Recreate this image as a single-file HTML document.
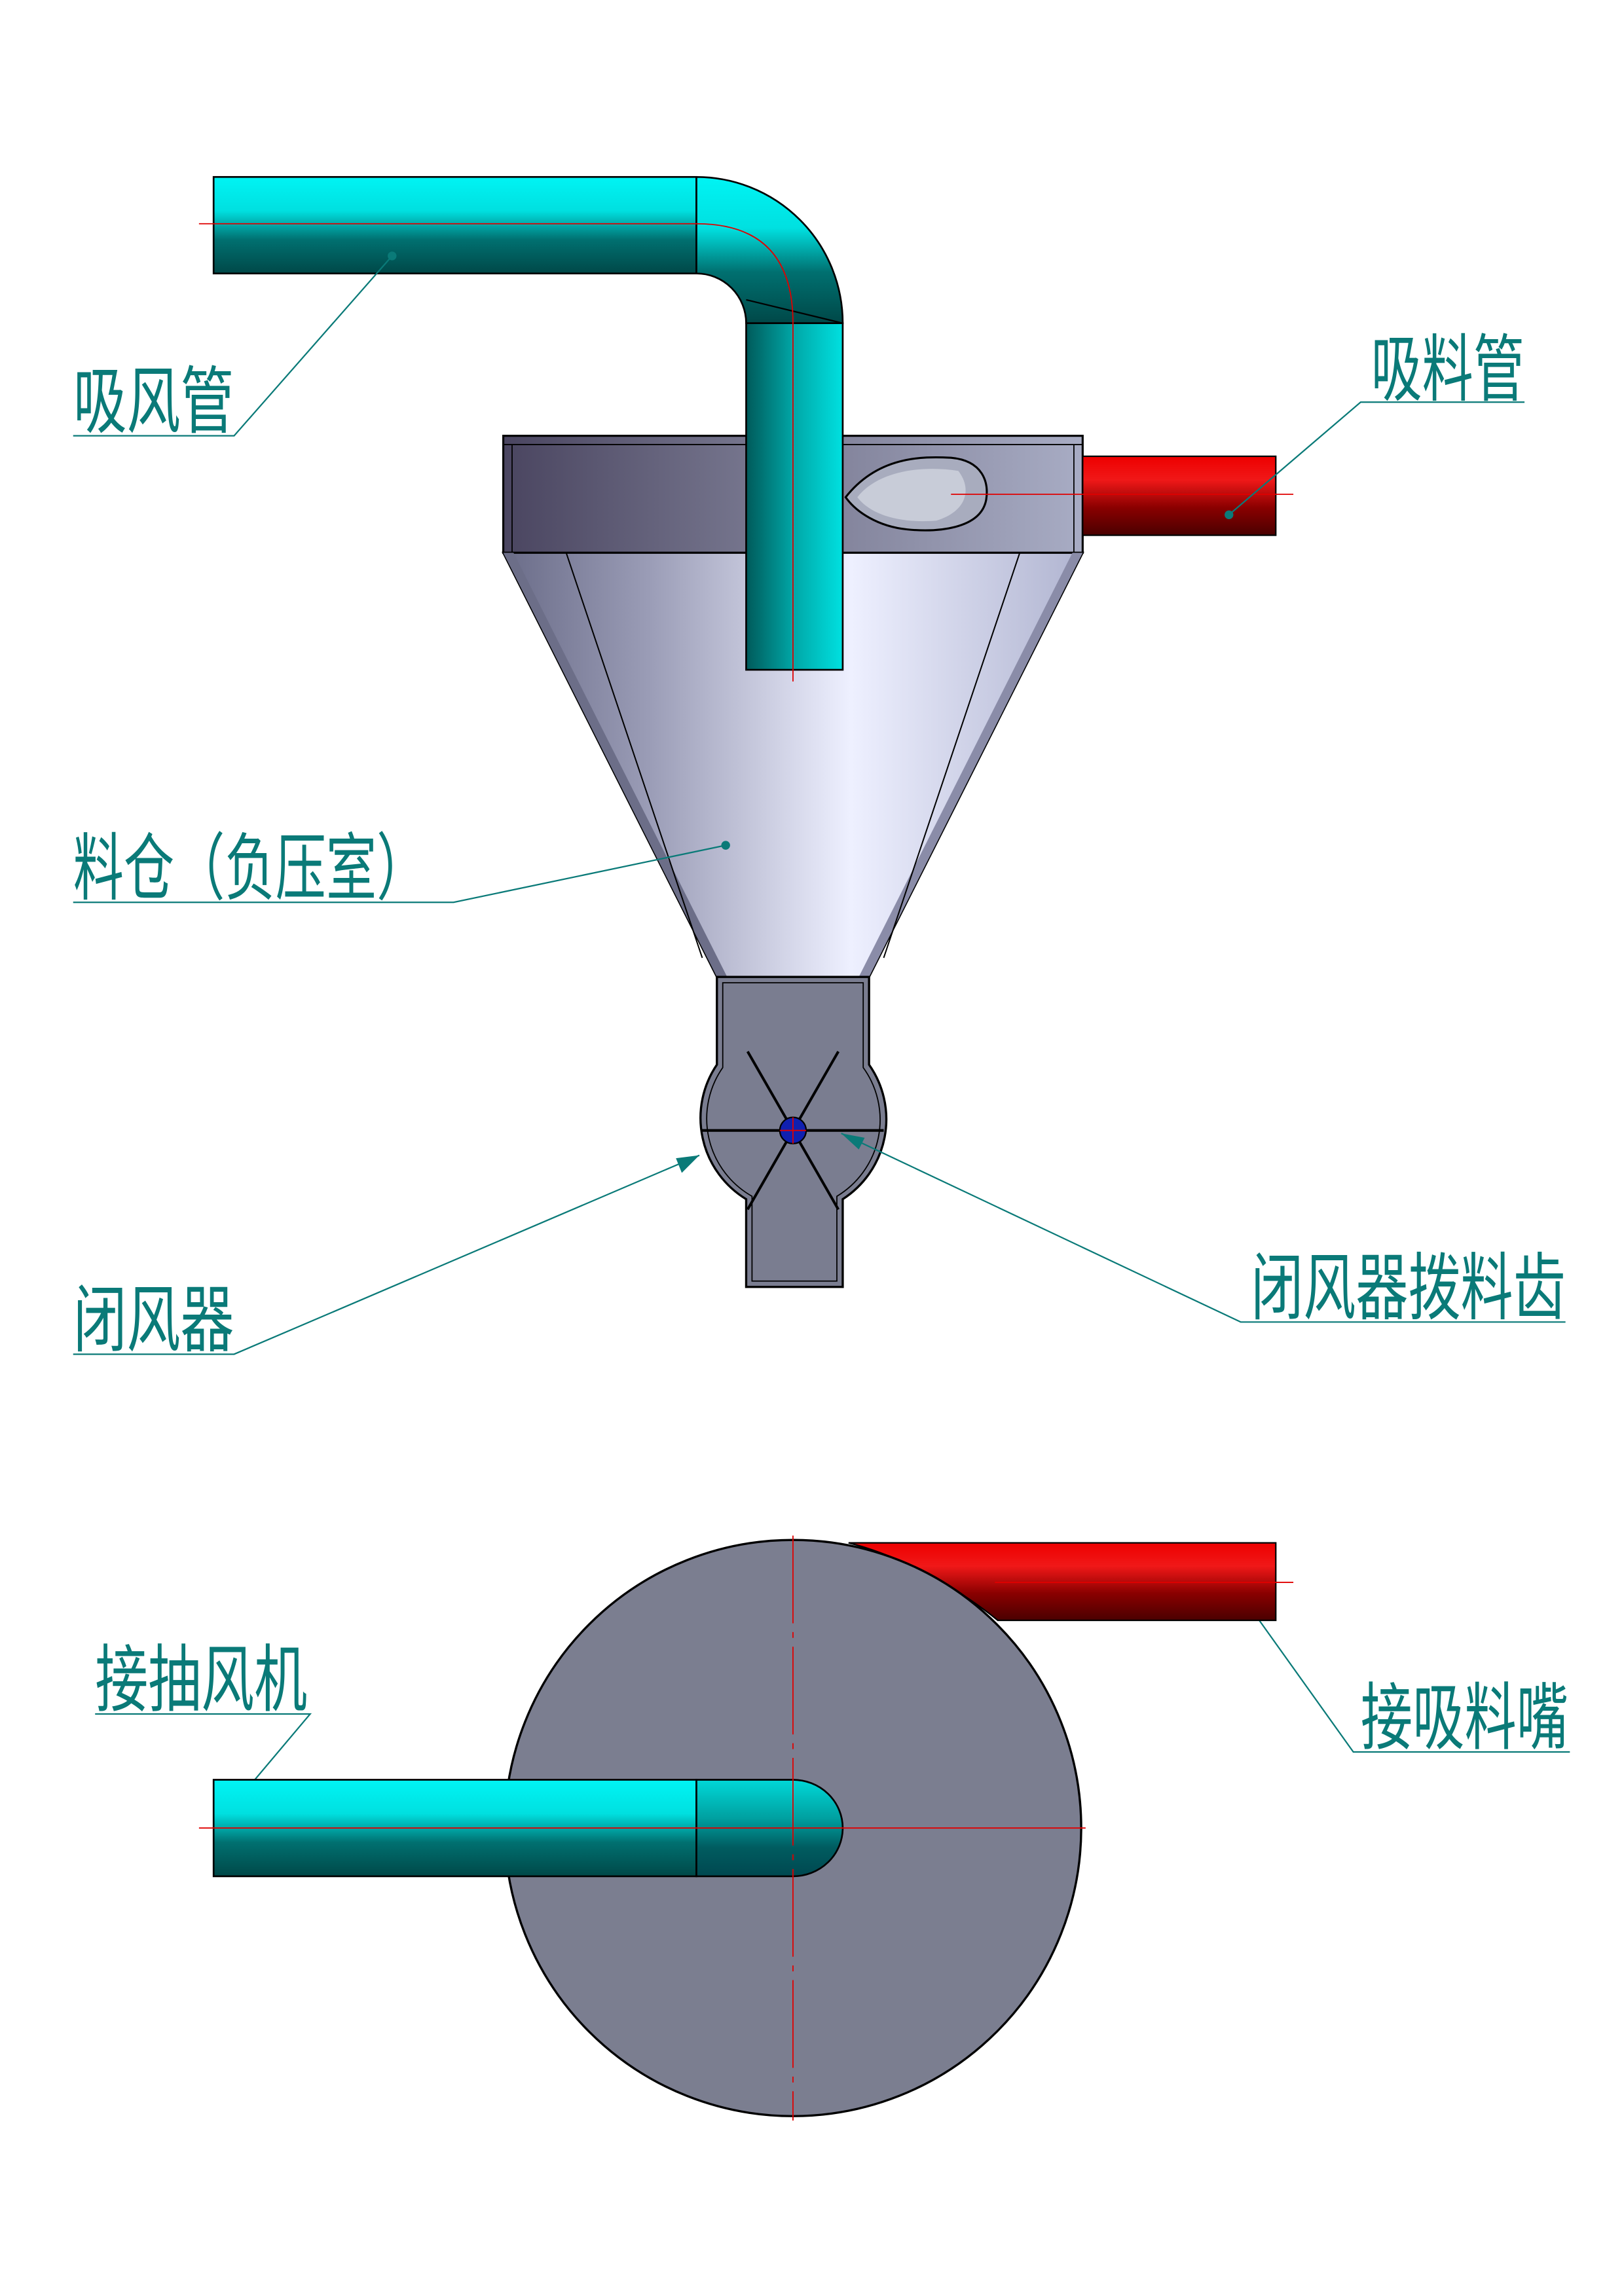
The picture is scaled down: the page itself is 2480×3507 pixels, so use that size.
<!DOCTYPE html>
<html><head><meta charset="utf-8"><style>
html,body{margin:0;padding:0;background:#fff}
svg{display:block}
text{font-family:"Liberation Sans","Noto Sans CJK SC","WenQuanYi Zen Hei",sans-serif;fill:#0a7a78}
</style></head><body>
<svg width="2480" height="3507" viewBox="0 0 1110 1570" preserveAspectRatio="none" xmlns="http://www.w3.org/2000/svg">
<defs>
<linearGradient id="cyh" x1="0" y1="0" x2="0" y2="1">
<stop offset="0" stop-color="#00f4f4"/><stop offset="0.35" stop-color="#00e0e0"/><stop offset="0.65" stop-color="#007070"/><stop offset="1" stop-color="#004848"/></linearGradient>
<linearGradient id="cyv" x1="0" y1="0" x2="1" y2="0">
<stop offset="0" stop-color="#005a5a"/><stop offset="0.5" stop-color="#00a8a8"/><stop offset="1" stop-color="#00e0e0"/></linearGradient>
<linearGradient id="red" x1="0" y1="0" x2="0" y2="1">
<stop offset="0" stop-color="#ee0000"/><stop offset="0.3" stop-color="#f01818"/><stop offset="0.65" stop-color="#8a0000"/><stop offset="1" stop-color="#4a0000"/></linearGradient>
<linearGradient id="top" x1="0" y1="0" x2="1" y2="0">
<stop offset="0" stop-color="#4a4560"/><stop offset="0.45" stop-color="#787890"/><stop offset="1" stop-color="#a8acc4"/></linearGradient>
<linearGradient id="cone" x1="0" y1="0" x2="1" y2="0">
<stop offset="0" stop-color="#6a6c88"/><stop offset="0.25" stop-color="#9a9cb6"/><stop offset="0.6" stop-color="#eef0ff"/><stop offset="1" stop-color="#b0b4d0"/></linearGradient>
<linearGradient id="cap" x1="0" y1="0" x2="0" y2="1">
<stop offset="0" stop-color="#00d8d8"/><stop offset="0.4" stop-color="#00a0a0"/><stop offset="0.7" stop-color="#005c60"/><stop offset="1" stop-color="#004850"/></linearGradient>
</defs>

<!-- top horizontal pipe -->
<rect x="146" y="121" width="330" height="66" fill="url(#cyh)" stroke="#000" stroke-width="1.2"/>
<path d="M476 121 A100 100 0 0 1 576 221 L510 221 A34 34 0 0 0 476 187 Z" fill="url(#cyh)" stroke="#000" stroke-width="1.2"/>
<path d="M510 205 L576 221" stroke="#000" stroke-width="1"/>

<!-- hopper top cylinder -->
<rect x="344" y="298" width="396" height="80" fill="url(#top)" stroke="#000" stroke-width="1.4"/>
<line x1="344" y1="304" x2="740" y2="304" stroke="#000" stroke-width="0.8"/>
<line x1="350" y1="304" x2="350" y2="378" stroke="#000" stroke-width="0.8"/>
<line x1="734" y1="304" x2="734" y2="378" stroke="#000" stroke-width="0.8"/>
<path d="M578 340 C600 312 630 312 650 313 C672 315 676 330 674 342 C670 362 640 364 620 362 C600 360 585 350 578 340 Z" fill="#a8acbe" stroke="#000" stroke-width="1.4"/>
<path d="M586 340 C600 322 630 318 655 322 C665 335 660 350 640 356 C615 358 595 352 586 340 Z" fill="#c8ccd8"/>
<!-- cone -->
<path d="M344 378 L740 378 L594 668 L490 668 Z" fill="url(#cone)" stroke="#000" stroke-width="1.4"/>
<path d="M344 378 L490 668 L497 668 L351 378 Z" fill="#6c6e88"/>
<path d="M740 378 L594 668 L587 668 L733 378 Z" fill="#8a8ca8"/>
<path d="M387 378 L480 655 M697 378 L604 655" stroke="#000" stroke-width="0.9"/>

<!-- vertical pipe -->
<rect x="510" y="221" width="66" height="237" fill="url(#cyv)" stroke="#000" stroke-width="1.2"/>

<!-- red pipe top -->
<rect x="740" y="312" width="132" height="54" fill="url(#red)" stroke="#000" stroke-width="1"/>

<!-- rotary valve -->
<path d="M490 668 L594 668 L594 728 A65 65 0 0 1 576 820 L576 880 L510 880 L510 820 A65 65 0 0 1 490 728 Z" fill="#7a7d90" stroke="#000" stroke-width="1.5"/>
<path d="M494 672 L590 672 L590 730 A61 61 0 0 1 572 818 L572 876 L514 876 L514 818 A61 61 0 0 1 494 730 Z" fill="none" stroke="#000" stroke-width="0.8"/>
<g stroke="#000" stroke-width="1.8">
<line x1="480" y1="773" x2="604" y2="773"/>
<line x1="511" y1="719" x2="573" y2="827"/>
<line x1="573" y1="719" x2="511" y2="827"/>
</g>
<circle cx="542" cy="773" r="9" fill="#1020b0" stroke="#000"/>

<g stroke="#e00000" stroke-width="0.8" fill="none">
<path d="M136 153 L476 153 Q542 153 542 221 L542 466"/>
<line x1="650" y1="338" x2="884" y2="338"/>
<line x1="533" y1="773" x2="551" y2="773"/><line x1="542" y1="764" x2="542" y2="782"/>
</g>

<g stroke="#0a7a78" stroke-width="1" fill="none">
<polyline points="50,298 160,298 268,175"/>
<polyline points="1042,275 930,275 840,352"/>
<polyline points="50,617 310,617 496,578"/>
<polyline points="50,926 160,926 478,790"/>
<polyline points="1070,904 848,904 575,775"/>
<polyline points="65,1172 212,1172 148,1248"/>
<polyline points="1073,1198 925,1198 855,1100"/>
</g>
<g fill="#0a7a78">
<circle cx="268" cy="175" r="3"/><circle cx="840" cy="352" r="3"/><circle cx="496" cy="578" r="3"/><circle cx="855" cy="1100" r="3"/>
<path d="M478 790 L462 792 L466 802 Z"/>
<path d="M575 775 L587 786 L591 778 Z"/>
<path d="M148 1248 L150 1230 L158 1234 Z"/>
</g>

<!-- bottom view -->
<path d="M580 1055 L872 1055 L872 1108 L682 1108 C660 1090 620 1065 580 1055 Z" fill="url(#red)" stroke="#000" stroke-width="1"/>
<circle cx="542" cy="1250" r="197" fill="#7b7e90" stroke="#000" stroke-width="1.5"/>
<rect x="146" y="1217" width="330" height="66" fill="url(#cyh)" stroke="#000" stroke-width="1.2"/>
<path d="M476 1217 L542 1217 A34 33 0 0 1 542 1283 L476 1283 Z" fill="url(#cap)" stroke="#000" stroke-width="1.2"/>
<g stroke="#e00000" stroke-width="0.8" fill="none">
<line x1="542" y1="1050" x2="542" y2="1450" stroke-dasharray="60,6,4,6"/>
<line x1="136" y1="1250" x2="742" y2="1250"/>
<line x1="680" y1="1082" x2="884" y2="1082"/>
</g>

<g font-size="50">
<text x="50" y="292" textLength="110" lengthAdjust="spacingAndGlyphs">吸风管</text>
<text x="937" y="270" textLength="105" lengthAdjust="spacingAndGlyphs">吸料管</text>
<text x="50" y="611" textLength="242" lengthAdjust="spacingAndGlyphs">料仓（负压室）</text>
<text x="50" y="920" textLength="110" lengthAdjust="spacingAndGlyphs">闭风器</text>
<text x="855" y="898" textLength="215" lengthAdjust="spacingAndGlyphs">闭风器拨料齿</text>
<text x="65" y="1166" textLength="145" lengthAdjust="spacingAndGlyphs">接抽风机</text>
<text x="930" y="1192" textLength="142" lengthAdjust="spacingAndGlyphs">接吸料嘴</text>
</g>
</svg>
</body></html>
